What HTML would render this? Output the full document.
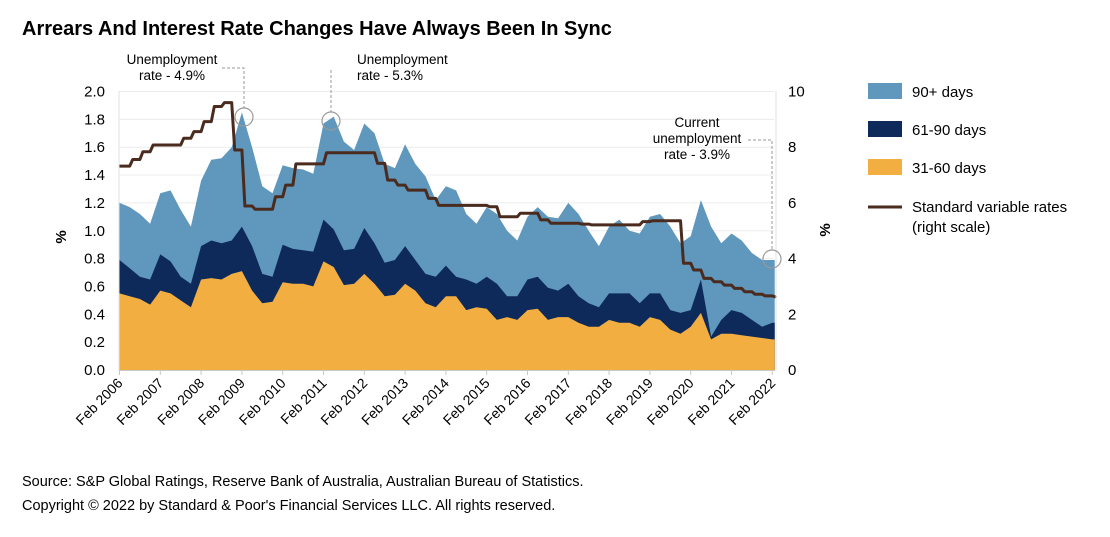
<!DOCTYPE html>
<html><head><meta charset="utf-8"><style>
body{margin:0;background:#fff;font-family:"Liberation Sans",Arial,sans-serif;}
svg text{font-family:"Liberation Sans",Arial,sans-serif;}
</style></head><body>
<svg id="c" width="1110" height="532" xmlns="http://www.w3.org/2000/svg">
<text x="22" y="35" font-size="20" font-weight="bold" fill="#000">Arrears And Interest Rate Changes Have Always Been In Sync</text>
<text x="22" y="486" font-size="14.5" fill="#000">Source: S&amp;P Global Ratings, Reserve Bank of Australia, Australian Bureau of Statistics.</text>
<text x="22" y="510" font-size="14.5" fill="#000">Copyright © 2022 by Standard &amp; Poor's Financial Services LLC. All rights reserved.</text>
<g id="grid"></g><g id="areas"></g><g id="line"></g><g id="axes"></g><g id="ann"></g><g id="legend"></g>
</svg>
<script>
const years = ["Feb 2006","Feb 2007","Feb 2008","Feb 2009","Feb 2010","Feb 2011","Feb 2012","Feb 2013","Feb 2014","Feb 2015","Feb 2016","Feb 2017","Feb 2018","Feb 2019","Feb 2020","Feb 2021","Feb 2022"];
const leftTicks = [0,0.2,0.4,0.6,0.8,1.0,1.2,1.4,1.6,1.8,2.0];
const rightTicks = [0,2,4,6,8,10];
// quarterly values from Feb 2006 (stacked totals)
const total90 = [1.20,1.17,1.12,1.05,1.27,1.29,1.15,1.03,1.36,1.51,1.52,1.60,1.85,1.60,1.32,1.27,1.47,1.45,1.44,1.41,1.77,1.82,1.64,1.58,1.77,1.70,1.48,1.45,1.62,1.48,1.39,1.22,1.32,1.29,1.12,1.05,1.17,1.12,1.00,0.93,1.10,1.17,1.10,1.09,1.20,1.12,1.00,0.89,1.03,1.08,1.00,0.98,1.10,1.12,1.03,0.91,0.96,1.22,1.03,0.91,0.98,0.93,0.84,0.79,0.79];
const total61 = [0.79,0.73,0.67,0.65,0.83,0.78,0.67,0.62,0.89,0.93,0.91,0.93,1.03,0.89,0.69,0.67,0.90,0.87,0.86,0.85,1.08,1.01,0.86,0.87,1.02,0.91,0.77,0.79,0.89,0.79,0.69,0.67,0.75,0.67,0.65,0.62,0.67,0.62,0.53,0.53,0.65,0.67,0.59,0.57,0.62,0.53,0.48,0.45,0.55,0.55,0.55,0.48,0.55,0.55,0.43,0.41,0.43,0.65,0.24,0.36,0.43,0.41,0.36,0.31,0.34];
const days31 = [0.55,0.53,0.51,0.47,0.57,0.55,0.50,0.45,0.65,0.66,0.65,0.69,0.71,0.57,0.48,0.49,0.63,0.62,0.62,0.60,0.78,0.74,0.61,0.62,0.69,0.62,0.53,0.54,0.62,0.57,0.48,0.45,0.53,0.53,0.43,0.45,0.44,0.36,0.38,0.36,0.43,0.44,0.36,0.38,0.38,0.34,0.31,0.31,0.36,0.34,0.34,0.31,0.38,0.36,0.29,0.26,0.31,0.41,0.22,0.26,0.26,0.25,0.24,0.23,0.22];
const svr = [7.32,7.56,7.84,8.08,8.08,8.08,8.32,8.56,8.92,9.46,9.60,7.90,5.89,5.77,5.77,6.22,6.64,7.40,7.40,7.40,7.80,7.80,7.80,7.80,7.80,7.42,6.82,6.64,6.46,6.46,6.16,5.91,5.91,5.91,5.91,5.91,5.86,5.50,5.50,5.63,5.63,5.39,5.27,5.27,5.27,5.24,5.21,5.21,5.21,5.21,5.21,5.33,5.36,5.36,5.36,3.83,3.59,3.29,3.17,3.05,2.93,2.81,2.72,2.66,2.63];

const NS="http://www.w3.org/2000/svg";
const X0=119.5, XW=40.8, Y0=370, YS=139.25, RS=27.85;
const xs = t => X0 + XW*t;
const yL = v => Y0 - v*YS;
const yR = v => Y0 - v*RS;
function mk(tag, attrs, parent){const e=document.createElementNS(NS,tag);for(const k in attrs)e.setAttribute(k,attrs[k]);document.getElementById(parent).appendChild(e);return e;}
function ti(i){return i/4;}

leftTicks.forEach(v=>{if(v>0){const g=mk('line',{x1:119,x2:774,y1:yL(v),y2:yL(v),stroke:'#ececec','stroke-width':1},'grid');

}});

function areaPath(vals){
  let d='M'+xs(0)+','+Y0;
  vals.forEach((v,i)=>{d+=' L'+xs(ti(i)).toFixed(1)+','+yL(v).toFixed(1);});
  const last=vals.length-1;
  d+=' L'+xs(ti(last)+0.06).toFixed(1)+','+yL(vals[last]).toFixed(1);
  d+=' L'+xs(ti(last)+0.06).toFixed(1)+','+Y0+' Z';
  return d;
}
const a1=mk('path',{d:areaPath(total90),fill:'#5f97bd'},'areas');


const a2=mk('path',{d:areaPath(total61),fill:'#0d2a5a'},'areas');


const a3=mk('path',{d:areaPath(days31),fill:'#f3ae41'},'areas');



// stepped rate line
let ld='';
svr.forEach((v,i)=>{
  const x=xs(ti(i)).toFixed(1), y=yR(v).toFixed(1);
  if(i===0){ld+='M'+x+','+y;}
  else{ld+=' L'+x+','+yR(svr[i-1]).toFixed(1)+' L'+(+x+3).toFixed(1)+','+y;}
});
ld+=' L'+xs(ti(svr.length-1)+0.06).toFixed(1)+','+yR(svr[svr.length-1]).toFixed(1);
const ln=mk('path',{d:ld,fill:'none',stroke:'#4a2b1e','stroke-width':3,'stroke-linejoin':'round'},'line');



const ax=mk('line',{x1:119,x2:775,y1:370.5,y2:370.5,stroke:'#c8c8c8','stroke-width':1},'axes');


const la=mk('line',{x1:119,x2:119,y1:91,y2:371,stroke:'#e0e0e0','stroke-width':1},'axes');


const ra=mk('line',{x1:776,x2:776,y1:91,y2:371,stroke:'#e0e0e0','stroke-width':1},'axes');


years.forEach((y,i)=>{
  const x=xs(i);
  const tk=mk('line',{x1:x,x2:x,y1:370,y2:375,stroke:'#c8c8c8'},'axes');
  
  
  const t=mk('text',{x:x+4,y:384,'font-size':14,'text-anchor':'end',transform:'rotate(-45 '+(x+4)+' 384)',fill:'#000'},'axes');
  t.textContent=y;
  
  
});
leftTicks.forEach(v=>{
  const t=mk('text',{x:105,y:yL(v)+5,'font-size':15,'text-anchor':'end',fill:'#000'},'axes');
  t.textContent=v.toFixed(1);
  
  
});
rightTicks.forEach(v=>{
  const t=mk('text',{x:788,y:yR(v)+5,'font-size':15,fill:'#000'},'axes');
  t.textContent=String(v);
  
  
});
const lt=mk('text',{x:66,y:237,'font-size':15,'font-weight':'bold','text-anchor':'middle',transform:'rotate(-90 66 237)'},'axes');
lt.textContent='%';


const rt=mk('text',{x:830,y:230,'font-size':15,'font-weight':'bold','text-anchor':'middle',transform:'rotate(-90 830 230)'},'axes');
rt.textContent='%';



function ann(lines,x,y0,anchor,name){
  lines.forEach((s,i)=>{const t=mk('text',{x:x,y:y0+i*16,'font-size':13.5,'text-anchor':anchor,fill:'#000'},'ann');t.textContent=s;
  
  });
}
ann(['Unemployment','rate - 4.9%'],172,64,'middle','annotation-2009');
ann(['Unemployment','rate - 5.3%'],357,64,'start','annotation-2011');
ann(['Current','unemployment','rate - 3.9%'],697,127,'middle','annotation-current');
const dash={fill:'none',stroke:'#999','stroke-width':1,'stroke-dasharray':'3,2'};
[['M222,68 L244,68 L244,108','callout-line-2009'],['M331,70 L331,112','callout-line-2011'],['M748,140 L772,140 L772,250','callout-line-current']].forEach(p=>{
  const e=mk('path',Object.assign({d:p[0]},dash),'ann');
  
  
});
[[244,117,'callout-circle-2009'],[331,121,'callout-circle-2011'],[772,259,'callout-circle-current']].forEach(c=>{
  const e=mk('circle',{cx:c[0],cy:c[1],r:9,fill:'none',stroke:'#999','stroke-width':1.2},'ann');
  
  
});

const leg=[['90+ days','#5f97bd',92,'box'],['61-90 days','#0d2a5a',130,'box'],['31-60 days','#f3ae41',168,'box'],['Standard variable rates','#4a2b1e',207,'line']];
leg.forEach(l=>{
  let m;
  if(l[3]==='box') m=mk('rect',{x:868,y:l[2]-9,width:34,height:16,fill:l[1]},'legend');
  else m=mk('line',{x1:868,x2:902,y1:l[2],y2:l[2],stroke:l[1],'stroke-width':3},'legend');
  
  
  const t=mk('text',{x:912,y:l[2]+5,'font-size':15,fill:'#000'},'legend');
  t.textContent=l[0];
  
  
});
const t2=mk('text',{x:912,y:232,'font-size':15,fill:'#000'},'legend');
t2.textContent='(right scale)';


</script>
</body></html>
